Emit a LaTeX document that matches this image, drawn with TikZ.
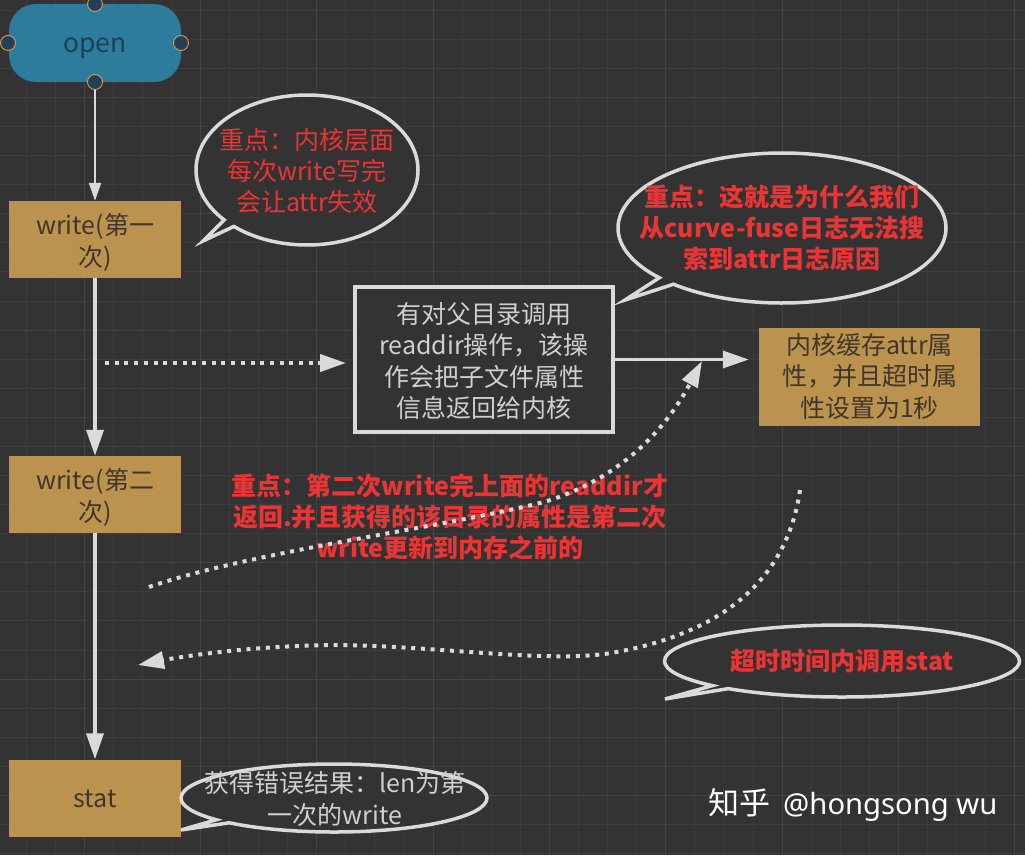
\documentclass[tikz,border=0pt]{standalone}
\usepackage{fontspec}
\setmainfont{Noto Sans CJK SC}
\newfontfamily\wmlatin{Noto Sans}
\usetikzlibrary{arrows.meta,shapes.callouts,shapes.geometric}
\definecolor{bgc}{HTML}{333333}
\definecolor{gridminor}{HTML}{3C3C3C}
\definecolor{gridmajor}{HTML}{444444}
\definecolor{linec}{HTML}{DADADA}
\definecolor{tealc}{HTML}{2E7C9B}
\definecolor{tealt}{HTML}{1E3F55}
\definecolor{tanc}{HTML}{BC924F}
\definecolor{tant}{HTML}{40372A}
\definecolor{redc}{HTML}{E93535}
\definecolor{boxt}{HTML}{CFCFCF}
\definecolor{portc}{HTML}{E09A45}
\definecolor{portf}{HTML}{243F58}
\tikzset{
  x=1pt,y=-1pt,
  txt/.style={font=\fontsize{25}{31.5}\selectfont,align=center,inner sep=0pt},
  tanbox/.style={fill=tanc,inner sep=0pt,minimum width=172pt,minimum height=77pt},
  tantxt/.style={txt,text=tant},
  port/.style={circle,draw=portc,fill=portf,line width=0.9pt,minimum size=15pt,inner sep=0pt},
  bubble/.style={ellipse callout,draw=linec,fill=bgc,line width=3.5pt,inner sep=0pt,outer sep=0pt,callout pointer arc=7},
  redtxt/.style={txt,text=redc,font=\fontsize{25}{31}\selectfont\bfseries},
  thinarrow/.style={draw=linec,line width=2pt,-{Triangle[length=18pt,width=12pt,fill=linec]}},
  thickarrow/.style={draw=linec,line width=3.6pt,-{Triangle[length=26pt,width=17pt,fill=linec]}},
  dotarrow/.style={draw=linec,line width=4pt,dash pattern=on 4pt off 5.7pt,-{Triangle[length=26pt,width=17pt,fill=linec]}},
}
\begin{document}
\begin{tikzpicture}
\useasboundingbox (0,0) rectangle (1025,855);
\clip (0,0) rectangle (1025,855);
\fill[bgc] (0,0) rectangle (1025,855);
% grid
\foreach \i in {-6,...,28}{
  \pgfmathsetmacro{\gx}{round(200+29.08*\i)+0.5}
  \draw[gridminor,line width=1.5pt] (\gx,0) -- (\gx,855);
}
\foreach \i in {-3,...,26}{
  \pgfmathsetmacro{\gy}{round(97+29.08*\i)+0.5}
  \draw[gridminor,line width=1.5pt] (0,\gy) -- (1025,\gy);
}
\foreach \i in {-1,...,7}{
  \pgfmathsetmacro{\gx}{round(200+116.3*\i)+0.5}
  \draw[gridmajor,line width=1.5pt] (\gx,0) -- (\gx,855);
}
\foreach \i in {-1,...,6}{
  \pgfmathsetmacro{\gy}{round(97+116.3*\i)+0.5}
  \draw[gridmajor,line width=1.5pt] (0,\gy) -- (1025,\gy);
}
% flow nodes
\node[fill=tealc,inner sep=0pt,rounded corners=27pt,minimum width=172pt,minimum height=78pt] (open) at (95,43) {};
\node[txt,text=tealt,font=\fontsize{26.5}{31}\selectfont] (opent) at ([yshift=-5pt]open.center) {open};
\node[port] (pt) at (95,4) {};
\node[port] (pb) at (95,82) {};
\node[port] (pl) at (8,43) {};
\node[port] (pr) at (181,43) {};
\node[tanbox] (w1) at (95,239.5) {};
\node[tantxt] (w1t) at ([yshift=-3pt]w1.center) {write(第一\\次)};
\node[tanbox] (w2) at (95,494.5) {};
\node[tantxt] (w2t) at ([yshift=-3pt]w2.center) {write(第二\\次)};
\node[tanbox] (st) at (95,798) {};
\node[tantxt] (stt) at ([yshift=-1pt]st.center) {stat};
\node[draw=linec,line width=3.5pt,fill=bgc,inner sep=0pt,minimum width=258pt,minimum height=145pt] (rd) at (484,359.5) {};
\node[txt,text=boxt] (rdt) at ([yshift=-1.5pt]rd.center) {有对父目录调用\\readdir操作，该操\\作会把子文件属性\\信息返回给内核};
\node[fill=tanc,inner sep=0pt,minimum width=221pt,minimum height=98pt] (cache) at (869.5,377) {};
\node[tantxt] (cachet) at ([yshift=1pt]cache.center) {内核缓存attr属\\性，并且超时属\\性设置为1秒};
% free red note, under the dotted connector
\node[redtxt] (note) at (450,517) {重点：第二次write完上面的readdir才\\返回.并且获得的该目录的属性是第二次\\write更新到内存之前的};
% free ends of the dotted connectors
\coordinate (d1a) at (105,363);
\coordinate (d1b) at (346,363);
\coordinate (d2a) at (149,587);
\coordinate (d2m) at (544,502);
\coordinate (d2b) at (702,361);
\coordinate (d3a) at (800,490);
\coordinate (d3m) at (611,653);
\coordinate (d3n) at (299,646);
\coordinate (d3b) at (138,665);
% connectors
\draw[thinarrow] (pb.south) -- (w1.north);
\draw[thickarrow] (w1.south) -- (w2.north);
\draw[thickarrow] (w2.south) -- (st.north);
\draw[thickarrow] (rd.east) -- ++(134,0);
\draw[dotarrow] (d1a) -- (d1b);
\draw[dotarrow] (d2a) .. controls (250,552) and (440,528) .. (d2m) .. controls (610,482) and (660,440) .. (d2b);
\draw[dotarrow] (d3a) .. controls (790,560) and (745,630) .. (d3m) .. controls (540,665) and (400,640) .. (d3n) .. controls (245,648) and (190,655) .. (d3b);
% speech bubbles
\node[bubble,minimum width=222pt,minimum height=150pt,callout absolute pointer={(203,241)}] (b1) at (307,170) {};
\node[redtxt,font=\fontsize{25}{31}\selectfont] (b1t) at ([yshift=-1pt]b1.center) {重点：内核层面\\每次write写完\\会让attr失效};
\node[bubble,minimum width=328pt,minimum height=150pt,callout absolute pointer={(625,300)}] (b2) at (782,228) {};
\node[redtxt] (b2t) at (782,228) {重点：这就是为什么我们\\从curve-fuse日志无法搜\\索到attr日志原因};
\node[bubble,minimum width=355pt,minimum height=72pt,callout absolute pointer={(665,699)}] (b3) at (842,661) {};
\node[redtxt] (b3t) at (b3.center) {超时时间内调用stat};
\node[bubble,minimum width=306pt,minimum height=68pt,callout absolute pointer={(181,830)}] (b4) at (334,798) {};
\node[txt,text=boxt] (b4t) at (335,799) {获得错误结果：len为第\\一次的write};
% watermark
\node[txt,text=white,font=\fontsize{31}{36}\selectfont,anchor=west] (wm) at (708,805) {知乎\hspace{13pt}{\wmlatin\fontsize{29.2}{36}\selectfont @hongsong wu}};
\end{tikzpicture}
\end{document}
